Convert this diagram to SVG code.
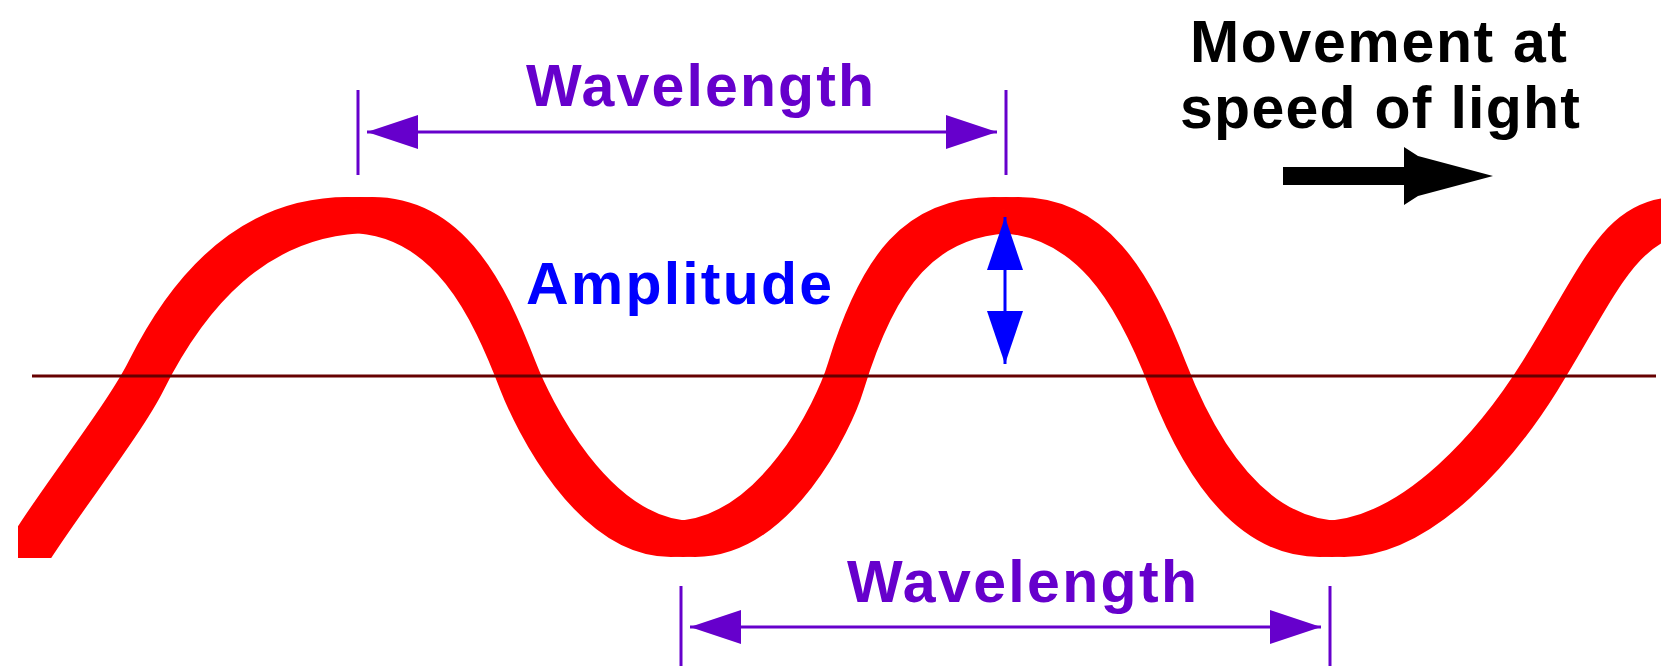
<svg xmlns="http://www.w3.org/2000/svg" xmlns:xlink="http://www.w3.org/1999/xlink" width="1661" height="666" viewBox="0 0 1661 666">
  <style>
    .lbl { font-family: "Liberation Sans", Arial, Helvetica, sans-serif; font-weight: bold; font-size: 59px; }
    .purple { fill: #6600CC; }
    .blue { fill: #0000FF; }
    .black { fill: #000000; }
    .pline { stroke: #6600CC; stroke-width: 3; fill: none; }
    .bline { stroke: #0000FF; stroke-width: 3; fill: none; }
  </style>
  <defs>
    <path id="waveCurve" d="M 24,558 L 36,540 C 70,488 126,416 146,376 C 186,296 250,215 360,215 C 450,215 490,303 518,376 C 532,412 592,539 683,539 C 775,539 834,416 846,376 C 878,271 920,215 1006,215 C 1090,215 1133,285 1168,376 C 1203,466 1255,539 1332,539 C 1420,539 1500,440 1540,376 C 1600,280 1620,215 1690,215"/>
    <clipPath id="waveClip">
      <rect x="18" y="0" width="1700" height="558"/>
    </clipPath>
    <marker id="purpleHead" markerUnits="userSpaceOnUse" viewBox="0 0 52 36" markerWidth="52" markerHeight="36" refX="51" refY="18" orient="auto-start-reverse">
      <path d="M51,18 L0,1 L0,35 Z" fill="#6600CC"/>
    </marker>
    <marker id="blueHead" markerUnits="userSpaceOnUse" viewBox="0 0 54 38" markerWidth="54" markerHeight="38" refX="53" refY="19" orient="auto-start-reverse">
      <path d="M53,19 L0,1 L0,37 Z" fill="#0000FF"/>
    </marker>
  </defs>

  <rect x="0" y="0" width="1661" height="666" fill="#FFFFFF"/>

  <g id="wave" clip-path="url(#waveClip)" fill="none" stroke="#FF0000" stroke-width="12" stroke-linejoin="round">
    <use xlink:href="#waveCurve" x="-12" y="-12"/>
    <use xlink:href="#waveCurve" x="0" y="-12"/>
    <use xlink:href="#waveCurve" x="12" y="-12"/>
    <use xlink:href="#waveCurve" x="-12" y="0"/>
    <use xlink:href="#waveCurve" x="0" y="0"/>
    <use xlink:href="#waveCurve" x="12" y="0"/>
    <use xlink:href="#waveCurve" x="-12" y="12"/>
    <use xlink:href="#waveCurve" x="0" y="12"/>
    <use xlink:href="#waveCurve" x="12" y="12"/>
  </g>

  <g id="axis">
    <line x1="32" y1="376" x2="1656" y2="376" stroke="#660000" stroke-width="3"/>
  </g>

  <g id="connectors">
    <line class="pline" x1="358" y1="90" x2="358" y2="175"/>
    <line class="pline" x1="1006" y1="90" x2="1006" y2="175"/>
    <line class="pline" x1="367" y1="132" x2="997" y2="132" marker-start="url(#purpleHead)" marker-end="url(#purpleHead)"/>
    <line class="pline" x1="681" y1="586" x2="681" y2="666"/>
    <line class="pline" x1="1330" y1="586" x2="1330" y2="666"/>
    <line class="pline" x1="690" y1="627" x2="1321" y2="627" marker-start="url(#purpleHead)" marker-end="url(#purpleHead)"/>
    <line class="bline" x1="1005" y1="217" x2="1005" y2="364" marker-start="url(#blueHead)" marker-end="url(#blueHead)"/>
    <path d="M1283,167 L1404,167 L1404,147 L1418,156 L1493,176 L1418,196 L1404,205 L1404,185 L1283,185 Z" fill="#000000"/>
  </g>

  <g id="wavelength-top">
    <text class="lbl purple" x="526" y="106" textLength="348">Wavelength</text>
  </g>
  <g id="wavelength-bottom">
    <text class="lbl purple" x="847" y="602" textLength="350">Wavelength</text>
  </g>
  <g id="amplitude">
    <text class="lbl blue" x="526" y="304" textLength="306">Amplitude</text>
  </g>
  <g id="movement">
    <text class="lbl black" x="1190" y="62" textLength="377">Movement at</text>
    <text class="lbl black" x="1180" y="128" textLength="400">speed of light</text>
  </g>
</svg>
